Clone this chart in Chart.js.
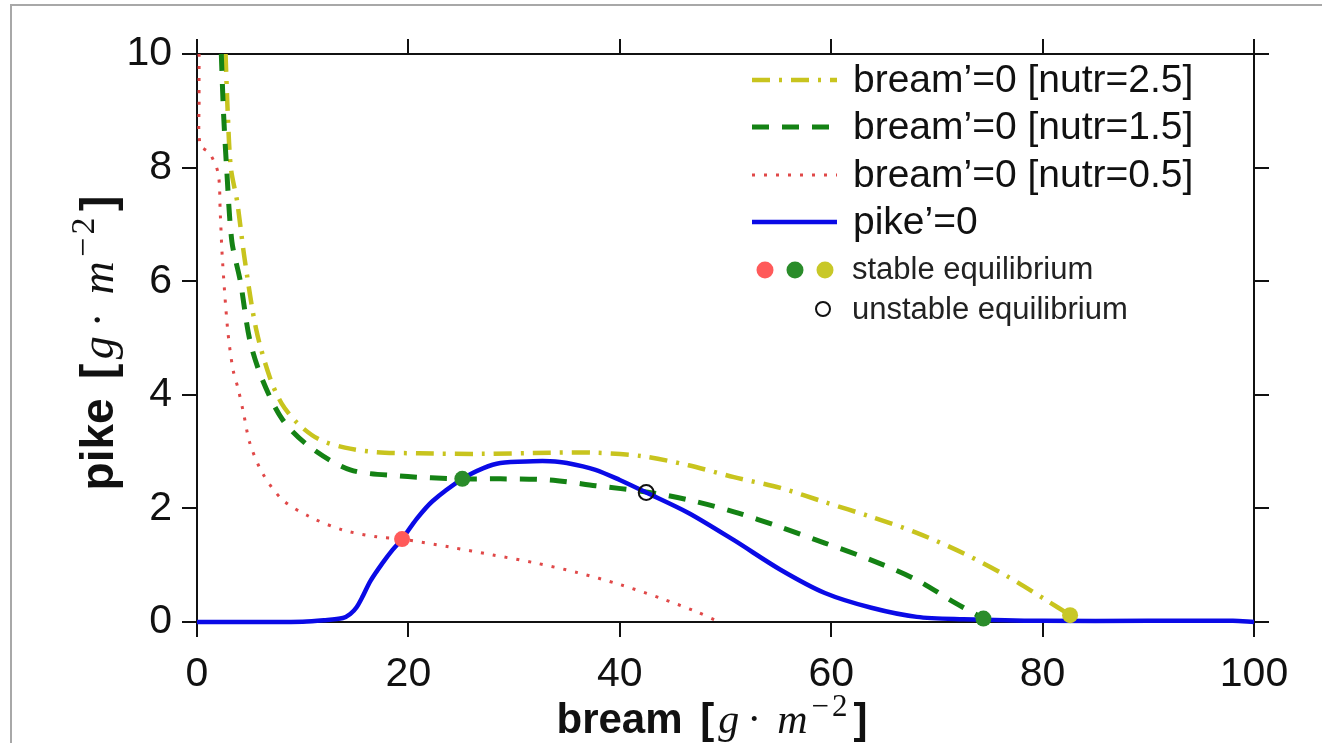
<!DOCTYPE html>
<html>
<head>
<meta charset="utf-8">
<script src="https://cdn.jsdelivr.net/npm/chart.js@4.4.1/dist/chart.umd.min.js"></script>
<style>
    html, body { margin: 0; padding: 0; background: #fff; overflow: hidden; }
    #moldura { position: absolute; left: 10px; top: 4px; width: 1340px; height: 760px; border: 2px solid #a8a8a8; box-sizing: border-box; }
    #grafico { position: absolute; left: 0; top: 0; }
</style>
</head>
<body>
<div id="moldura"></div>
<canvas id="grafico" width="1322" height="743"></canvas>
<script>
// Isoclinas do modelo bream/pike (g/m2)
const breamNutr25X = [2.7, 2.9, 3.2, 3.8, 4.5, 5.6, 6.9, 8.0, 9.5, 11.5, 14.0, 17.0, 21.0, 27.0, 33.4, 37.7, 42.1, 46.5, 50.8, 55.2, 59.4, 63.8, 68.1, 72.5, 76.8, 80.3, 82.6];
const breamNutr25Y = [10, 9, 8, 7.4, 6.4, 5.15, 4.3, 3.85, 3.5, 3.22, 3.07, 2.99, 2.97, 2.96, 2.98, 2.98, 2.92, 2.76, 2.55, 2.36, 2.11, 1.85, 1.57, 1.21, 0.79, 0.39, 0.12];

const breamNutr15X = [2.3, 2.5, 2.8, 3.3, 4.1, 5.0, 6.2, 8.1, 10.7, 14.5, 19.2, 25.1, 28.7, 33.4, 37.7, 42.5, 46.5, 50.8, 55.2, 59.4, 63.8, 68.1, 71.6, 74.4];
const breamNutr15Y = [10, 9, 8, 6.7, 6.0, 4.96, 4.26, 3.56, 3.08, 2.68, 2.57, 2.52, 2.52, 2.5, 2.4, 2.29, 2.15, 1.94, 1.67, 1.39, 1.09, 0.74, 0.35, 0.06];

const breamNutr05X = [0.2, 0.2, 0.3, 1.2, 2.0, 2.2, 2.4, 2.9, 3.4, 3.9, 4.4, 5.0, 6.2, 8.1, 10.7, 13.8, 17.0, 19.4, 23.9, 28.0, 32.0, 36.0, 40.0, 44.0, 47.0, 49.2];
const breamNutr05Y = [10, 9.2, 8.4, 8.25, 7.9, 7.2, 6.4, 5.15, 4.45, 4.1, 3.68, 3.15, 2.62, 2.15, 1.85, 1.62, 1.5, 1.46, 1.32, 1.18, 1.04, 0.87, 0.66, 0.41, 0.2, 0.02];

const pikeX = [0, 5, 10, 12, 13.8, 14.5, 15.1, 15.7, 16.4, 17.6, 18.5, 19.4, 20.8, 22.3, 25.1, 27.1, 28.7, 31.8, 33.4, 35.0, 37.7, 40.0, 42.5, 46.5, 50.8, 55.2, 59.4, 63.8, 68.1, 72.5, 80, 90, 98, 100];
const pikeY = [0, 0, 0.005, 0.03, 0.07, 0.14, 0.26, 0.46, 0.72, 1.05, 1.27, 1.46, 1.82, 2.13, 2.52, 2.71, 2.8, 2.83, 2.83, 2.8, 2.68, 2.5, 2.28, 1.92, 1.44, 0.92, 0.51, 0.25, 0.09, 0.05, 0.02, 0.02, 0.02, 0];

// equilibrios
const estavelX = [19.4, 25.1, 74.4, 82.6];
const estavelY = [1.46, 2.52, 0.06, 0.12];
const estavelCores = ['#ff5a5a', '#2a8c2a', '#2a8c2a', '#c8c828'];
const instavelX = [42.5];
const instavelY = [2.28];

const ticksX = [0, 20, 40, 60, 80, 100];
const ticksY = [0, 2, 4, 6, 8, 10];

const rotulosLegenda = ['bream’=0 [nutr=2.5]', 'bream’=0 [nutr=1.5]', 'bream’=0 [nutr=0.5]', 'pike’=0'];
const rotuloEstavel = 'stable equilibrium';
const rotuloInstavel = 'unstable equilibrium';
const coresEstavelLegenda = ['#ff5a5a', '#2a8c2a', '#c8c828'];

function pontos(xs, ys) {
    return xs.map((x, i) => ({ x: x, y: ys[i] }));
}

const FONTE = '"Liberation Sans", Arial, sans-serif';
const SERIFA = '"Liberation Serif", "Times New Roman", serif';

const linhas = [
    { label: rotulosLegenda[0], data: pontos(breamNutr25X, breamNutr25Y), borderColor: '#c8c41e', borderWidth: 4.5, borderDash: [18, 9, 3, 9], order: 4 },
    { label: rotulosLegenda[1], data: pontos(breamNutr15X, breamNutr15Y), borderColor: '#148214', borderWidth: 5, borderDash: [17, 13], order: 3 },
    { label: rotulosLegenda[2], data: pontos(breamNutr05X, breamNutr05Y), borderColor: '#e04848', borderWidth: 3, borderDash: [3, 9], order: 5 },
    { label: rotulosLegenda[3], data: pontos(pikeX, pikeY), borderColor: '#0a0ae6', borderWidth: 4.5, borderDash: [], order: 2 }
];

linhas.forEach(l => {
    l.showLine = true;
    l.pointRadius = 0;
    l.tension = 0.3;
    l.fill = false;
    l.borderCapStyle = 'butt';
    l.clip = false;
});

const datasets = linhas.concat([
    {
        label: rotuloEstavel,
        data: pontos(estavelX, estavelY),
        pointRadius: 8,
        pointBackgroundColor: estavelCores,
        pointBorderWidth: 0,
        showLine: false,
        clip: false,
        order: 1
    },
    {
        label: rotuloInstavel,
        data: pontos(instavelX, instavelY),
        pointRadius: 7.5,
        pointBackgroundColor: 'rgba(0,0,0,0)',
        pointBorderColor: '#111',
        pointBorderWidth: 2,
        showLine: false,
        clip: false,
        order: 0
    }
]);

// texto com partes em fontes diferentes (negrito + matematica)
function partesTitulo(nome, t) {
    const px = n => Math.round(n * t) + 'px ';
    return [
        { texto: nome + ' ', fonte: 'bold ' + px(42) + FONTE, espaco: 6 * t },
        { texto: '[', fonte: 'bold ' + px(42) + FONTE, espaco: 4 * t },
        { texto: 'g', fonte: 'italic ' + px(42) + SERIFA, espaco: 8 * t },
        { texto: '·', fonte: px(42) + SERIFA, espaco: 16 * t },
        { texto: 'm', fonte: 'italic ' + px(42) + SERIFA, espaco: 4 * t },
        { texto: '−', fonte: px(31) + SERIFA, espaco: 3 * t, dy: -17 * t },
        { texto: '2', fonte: px(31) + SERIFA, espaco: 6 * t, dy: -17 * t },
        { texto: ']', fonte: 'bold ' + px(42) + FONTE, espaco: 0 }
    ];
}

function desenharTexto(ctx, partes, cx, base) {
    let total = 0;
    partes.forEach(p => {
        ctx.font = p.fonte;
        p.w = ctx.measureText(p.texto).width;
        total += p.w + p.espaco;
    });
    let x = cx - total / 2;
    ctx.textAlign = 'left';
    ctx.textBaseline = 'alphabetic';
    partes.forEach(p => {
        ctx.font = p.fonte;
        ctx.fillText(p.texto, x, base + (p.dy || 0));
        x += p.w + p.espaco;
    });
}

const titulosEixos = {
    id: 'titulosEixos',
    afterDraw(chart) {
        const ctx = chart.ctx;
        ctx.save();
        ctx.fillStyle = '#111';
        desenharTexto(ctx, partesTitulo('bream', 1), 712, 733);
        ctx.translate(113, 343);
        ctx.rotate(-Math.PI / 2);
        desenharTexto(ctx, partesTitulo('pike', 1.1), 0, 0);
        ctx.restore();
    }
};

const legenda = {
    id: 'legenda',
    afterDraw(chart) {
        const ctx = chart.ctx;
        const linhasY = [80, 127, 175, 222];
        ctx.save();
        linhas.forEach((l, i) => {
            ctx.beginPath();
            ctx.strokeStyle = l.borderColor;
            ctx.lineWidth = l.borderWidth;
            ctx.setLineDash(l.borderDash);
            ctx.lineCap = 'butt';
            ctx.moveTo(752, linhasY[i]);
            ctx.lineTo(837, linhasY[i]);
            ctx.stroke();
            ctx.setLineDash([]);
            ctx.fillStyle = '#111';
            ctx.font = '39px ' + FONTE;
            ctx.textAlign = 'left';
            ctx.textBaseline = 'middle';
            ctx.fillText(l.label, 853, linhasY[i] + 1);
        });

        coresEstavelLegenda.forEach((c, i) => {
            ctx.beginPath();
            ctx.fillStyle = c;
            ctx.arc(765 + i * 30, 270, 8.5, 0, Math.PI * 2);
            ctx.fill();
        });
        ctx.beginPath();
        ctx.strokeStyle = '#111';
        ctx.lineWidth = 2;
        ctx.arc(823, 309, 7, 0, Math.PI * 2);
        ctx.stroke();

        ctx.fillStyle = '#222';
        ctx.font = '31px ' + FONTE;
        ctx.textBaseline = 'middle';
        ctx.fillText(rotuloEstavel, 852, 270);
        ctx.fillText(rotuloInstavel, 852, 310);
        ctx.restore();
    }
};

const grade = { drawOnChartArea: false, drawTicks: true, tickLength: 15, color: '#111', lineWidth: 2 };
const borda = { color: '#111', width: 2 };

function eixo(pos, min, max, passo, ticks, mostrarRotulos, tamanho) {
    return {
        type: 'linear',
        position: pos,
        min: min,
        max: max,
        afterBuildTicks: s => { s.ticks = ticks.map(v => ({ value: v })); },
        ticks: {
            display: mostrarRotulos,
            stepSize: passo,
            color: '#111',
            padding: pos == 'bottom' ? 13 : 10,
            font: { family: FONTE, size: 41 }
        },
        grid: grade,
        border: borda,
        afterFit: s => {
            if (pos == 'bottom' || pos == 'top') s.height = tamanho;
            else s.width = tamanho;
        }
    };
}

const grafico = new Chart(document.getElementById('grafico'), {
    type: 'scatter',
    data: { datasets: datasets },
    options: {
        responsive: false,
        animation: false,
        events: [],
        layout: { padding: 0 },
        plugins: {
            legend: { display: false },
            tooltip: { enabled: false }
        },
        scales: {
            x: eixo('bottom', 0, 100, 20, ticksX, true, 121),
            xTopo: eixo('top', 0, 100, 20, ticksX, false, 54),
            y: eixo('left', 0, 10, 2, ticksY, true, 197),
            yDireita: eixo('right', 0, 10, 2, ticksY, false, 68)
        }
    },
    plugins: [titulosEixos, legenda]
});
</script>
</body>
</html>
